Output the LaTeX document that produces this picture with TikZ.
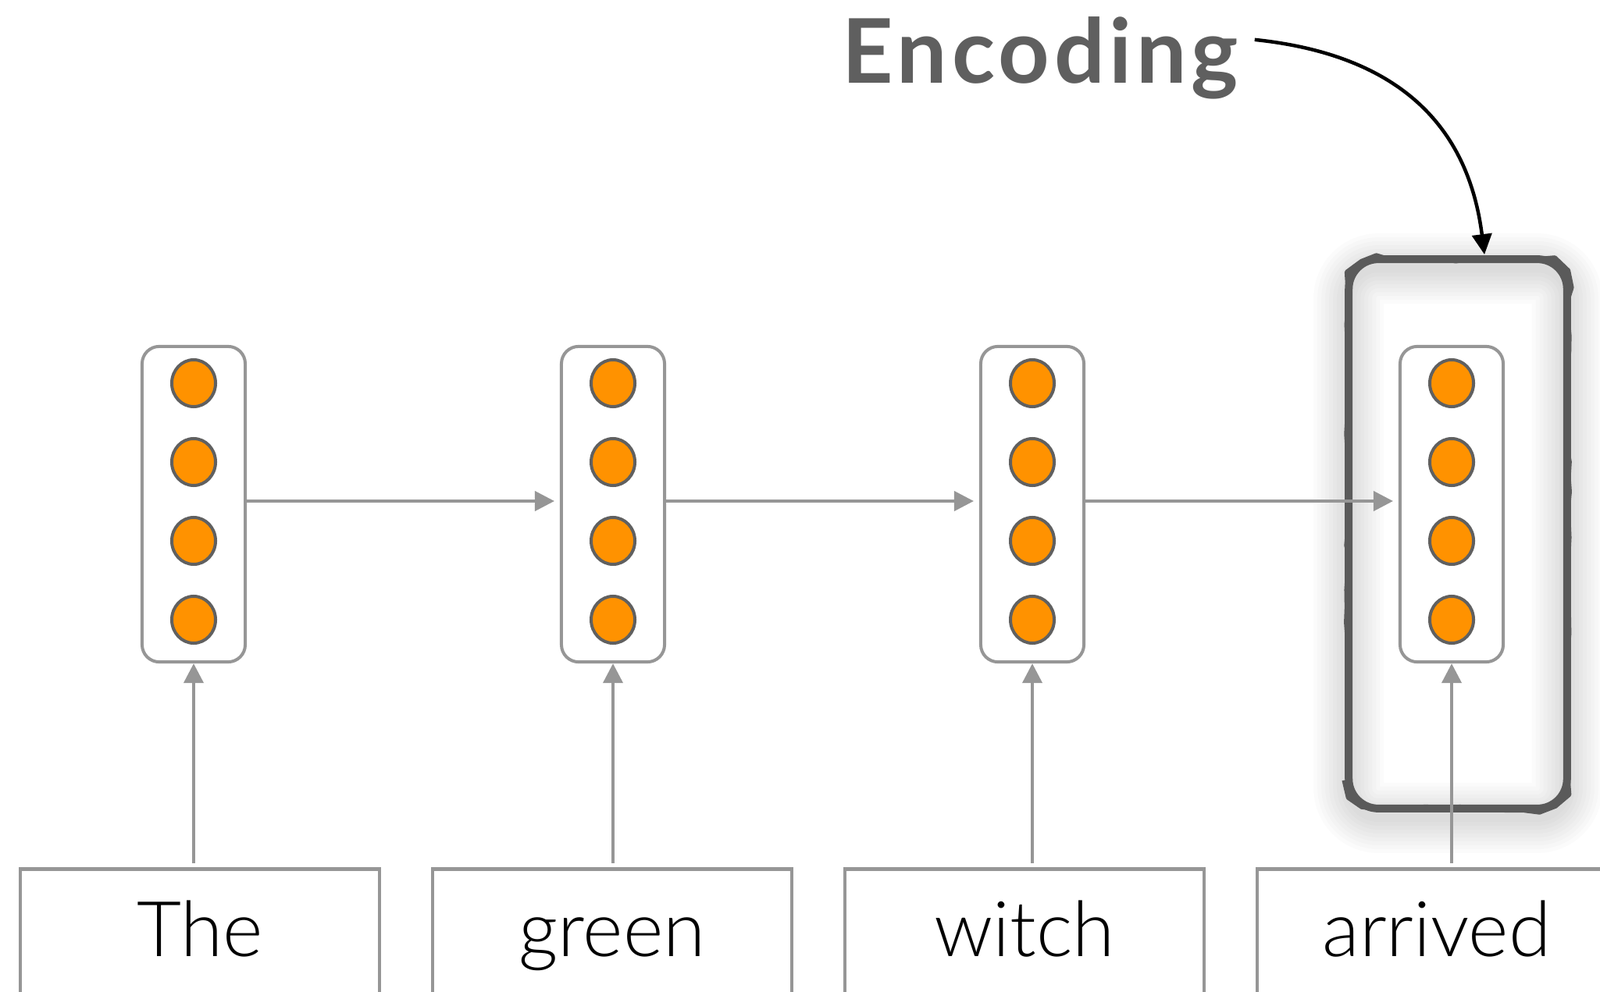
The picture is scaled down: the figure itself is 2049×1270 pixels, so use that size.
\documentclass[tikz,border=0pt]{standalone}
\usepackage{fontspec}
\setmainfont{Lato}[UprightFont=* Light, BoldFont=* Bold]
\usetikzlibrary{positioning,arrows.meta,shapes.geometric,decorations.pathmorphing}
\definecolor{linegray}{RGB}{150,150,150}
\definecolor{unitgray}{RGB}{96,96,96}
\definecolor{unitorange}{RGB}{255,146,0}
\definecolor{hlgray}{RGB}{90,90,90}
\definecolor{labelgray}{RGB}{95,95,95}

\begin{document}
\begin{tikzpicture}[x=0.01cm, y=-0.01cm,
    vec/.style={draw=linegray, line width=0.04cm, fill=white, rounded corners=0.22cm,
      minimum width=1.32cm, minimum height=4.04cm, inner sep=0pt},
    unit/.style={ellipse, draw=unitgray, line width=0.04cm, fill=unitorange,
      minimum width=0.56cm, minimum height=0.6cm, inner sep=0pt},
    word/.style={draw=linegray, line width=0.045cm, anchor=north west, inner xsep=0pt, inner ysep=0pt,
      text width=4.6cm, align=center, text height=1.12cm, text depth=1cm,
      font=\fontsize{28}{30}\selectfont},
    hlbox/.style={minimum width=2.78cm, minimum height=7.02cm, inner sep=0pt},
    hlline/.style={draw=hlgray, line width=0.1cm, rounded corners=0.38cm},
    hlwobble/.style={draw=hlgray, line width=0.06cm, line join=round,
      decorate, decoration={random steps, segment length=0.2cm, amplitude=0.025cm}},
    arr/.style={draw=linegray, line width=0.04cm, -{Triangle[length=0.25cm, width=0.25cm]}},
    encarr/.style={draw=black, line width=0.045cm, -{Triangle[length=0.26cm, width=0.25cm]}}
  ]
  \useasboundingbox (0,0) rectangle (2049,1270);
  \clip (0,0) rectangle (2049,1270);

  % highlighted last step, with its soft shadow
  \node[hlbox] (hl) at (1867,684) {};
  \foreach \w in {0.1,0.2,0.3,0.4,0.5,0.6,0.7,0.8,0.9}
    \draw[black, opacity=0.017, line width=\w cm, rounded corners=0.38cm]
      ([yshift=-0.12cm]hl.south west) rectangle ([yshift=-0.12cm]hl.north east);
  \draw[hlline] (hl.south west) rectangle (hl.north east);
  \draw[hlwobble] {[rounded corners=0.38cm] ([xshift=-0.01cm]hl.south west) rectangle ([xshift=0.01cm]hl.north east)};

  % words, hidden vectors and input arrows
  \foreach \i/\w in {1/The, 2/green, 3/witch, 4/arrived} {
    \node[word] (word\i) at ({23.5+528*(\i-1)}, 1111) {\w};
    \node[vec] (vec\i) at ({248+537*(\i-1)}, 646) {};
    \foreach \j in {1,...,4}
      \node[unit] (u\i\j) at ({248+537*(\i-1)}, {491+101*(\j-1)}) {};
    \draw[arr, shorten <=0.05cm] (vec\i.south |- word\i.north) -- (vec\i.south);
  }
  \foreach \i/\j in {1/2, 2/3, 3/4}
    \draw[arr, shorten >=0.07cm] ([yshift=0.04cm]vec\i.east) -- ([yshift=0.04cm]vec\j.west);

  % label
  \node[anchor=base west, inner sep=0pt, text=labelgray,
    font=\fontsize{32.5}{34}\selectfont\bfseries\addfontfeatures{LetterSpace=5}] (enc) at (1078,107) {Encoding};
  \draw[encarr] ([xshift=0.2cm, yshift=0.24cm]enc.east)
    .. controls (1790,70) and (1880,160) .. ([xshift=0.34cm, yshift=0.06cm]hl.north);
\end{tikzpicture}
\end{document}
